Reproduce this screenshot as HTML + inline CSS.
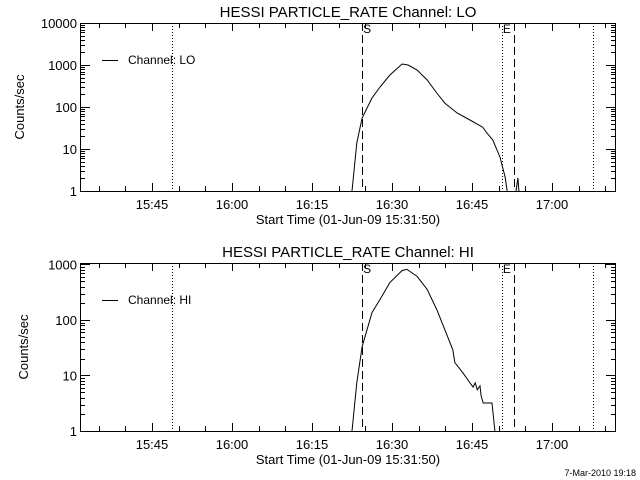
<!DOCTYPE html>
<html><head><meta charset="utf-8"><style>
html,body{margin:0;padding:0;background:#fff}
svg{display:block}
text{font-family:"Liberation Sans",sans-serif;fill:#000}
</style></head><body>
<svg id="chart" width="640" height="480" viewBox="0 0 640 480" xmlns="http://www.w3.org/2000/svg"></svg>
<script>
// minutes after 16:00
const tickLabels = ["15:45","16:00","16:15","16:30","16:45","17:00"];
const tickMinutes = [-15,0,15,30,45,60];
const loTimes = [22.5,23.4,24.4,26.25,27.75,29.6,31.9,33.0,34.7,36.6,38.4,39.9,42.2,44.6,47.0,47.8,48.9,50.25,51.2,51.6];
const loValues = [1,13.9,54.7,164,299,578,1057,1000,760,440,215,124,72,49,33,24,16.4,6.4,2.15,1];
const loSpikeTimes = [53.25,53.6,53.8];
const loSpikeValues = [1,2.04,1];
const hiTimes = [22.5,23.4,24.4,26.25,27.75,29.6,31.9,32.8,34.7,36.6,38.4,39.9,41.4,41.8,43.3,44.6,45.2,45.6,46.0,46.5,46.7,47.1,48.75,49.3];
const hiValues = [1,7.4,33,136,234,474,781,815,609,355,154,67,29,17,11.2,7.4,6.2,7.4,5.5,6.5,4.3,3.2,3.2,1];
const dottedMinutes = [-11.25,50.6,67.7];
const dashedMinutes = [24.4,52.9];

const svg = document.getElementById('chart');
const NS = 'http://www.w3.org/2000/svg';
const X0 = 80, X1 = 616, PXMIN = 80/15, XREF = 232;
function xs(m){ return XREF + m*PXMIN; }
const tMin = (X0-XREF)/PXMIN, tMax = (X1-XREF)/PXMIN;
function mk(tag, attrs, parent){ const e=document.createElementNS(NS,tag); for(const k in attrs) e.setAttribute(k,attrs[k]); (parent||svg).appendChild(e); return e; }

function panel(cfg){
  const g = mk('g',{});
  
  
  const y0 = cfg.top, y1 = cfg.bottom;
  const lmin = 0, lmax = cfg.lmax;
  const ys = v => y1 - (Math.log10(Math.max(v,1e-3)) - lmin)/(lmax-lmin)*(y1-y0);
  const clipId = 'clip'+cfg.id;
  const cp = mk('clipPath',{id:clipId},g); mk('rect',{x:X0,y:y0,width:X1-X0,height:y1-y0},cp);
  // title
  const t = mk('text',{x:348,y:y0-6,'text-anchor':'middle','font-size':'15'},g); t.textContent = cfg.title;
   
  // frame
  const fr = mk('rect',{x:X0+0.5,y:y0+0.5,width:X1-X0-1,height:y1-y0,fill:'none',stroke:'#000','stroke-width':1},g);
   
  // x ticks
  for(let m=Math.ceil(tMin/5)*5; m<=tMax; m+=5){
    const x = Math.round(xs(m))+0.5; const major = (m%15===0); const L = major?8:5;
    mk('line',{x1:x,y1:y1,x2:x,y2:y1-L,stroke:'#000'},g);
    mk('line',{x1:x,y1:y0,x2:x,y2:y0+L,stroke:'#000'},g);
  }
  tickLabels.forEach((lab,i)=>{
    const tx = mk('text',{x:xs(tickMinutes[i]),y:y1+18,'text-anchor':'middle','font-size':'13'},g); tx.textContent = lab;
     
  });
  const xt = mk('text',{x:348,y:y1+33,'text-anchor':'middle','font-size':'13'},g); xt.textContent='Start Time (01-Jun-09 15:31:50)';
   
  // y ticks
  for(let d=0; d<Math.ceil(lmax); d++){
    for(let k=1;k<10;k++){
      const v = Math.pow(10,d)*k; if(Math.log10(v)>lmax) break;
      const y = Math.round(ys(v))+0.5; const L = k===1?10:5;
      mk('line',{x1:X0,y1:y,x2:X0+L,y2:y,stroke:'#000'},g);
      mk('line',{x1:X1,y1:y,x2:X1-L,y2:y,stroke:'#000'},g);
    }
  }
  for(let d=0; d<=Math.floor(lmax); d++){
    const ty = mk('text',{x:77,y:ys(Math.pow(10,d))+5,'text-anchor':'end','font-size':'13'},g); ty.textContent = String(Math.pow(10,d));
     
  }
  const yt = mk('text',{x:0,y:0,'text-anchor':'middle','font-size':'13',transform:`translate(${cfg.ytx},${(y0+y1)/2}) rotate(-90)`},g); yt.textContent='Counts/sec';
   
  // vertical markers
  dottedMinutes.forEach(m=>{ const x=Math.round(xs(m))+0.5; const l=mk('line',{x1:x,y1:y0,x2:x,y2:y1,stroke:'#000','stroke-dasharray':'1,2'},g);   });
  dashedMinutes.forEach(m=>{ const x=Math.round(xs(m))+0.5; const l=mk('line',{x1:x,y1:y0,x2:x,y2:y1,stroke:'#000','stroke-dasharray':'8,4'},g);   });
  const s = mk('text',{x:xs(dashedMinutes[0])+1,y:y0+10,'font-size':'12'},g); s.textContent='S';
   
  const e = mk('text',{x:xs(dottedMinutes[1])+1,y:y0+10,'font-size':'12'},g); e.textContent='E';
   
  // series
  const series = cfg.series;
  series.forEach(sr=>{
    const d = sr.t.map((m,i)=>(i?'L':'M')+xs(m).toFixed(1)+','+ys(sr.v[i]).toFixed(1)).join(' ');
    const p = mk('path',{d:d,fill:'none',stroke:'#000','stroke-width':1,'clip-path':`url(#${clipId})`},g);
     
  });
  // legend
  const ly = y0+37;
  const ll = mk('line',{x1:102,y1:ly+0.5,x2:118,y2:ly+0.5,stroke:'#000'},g);
   
  const lt = mk('text',{x:128,y:ly+4,'font-size':'12'},g); lt.textContent = cfg.legend;
   
}

panel({id:1,name:'lo-panel',top:23,bottom:191,lmax:4,ytx:24,title:'HESSI PARTICLE_RATE Channel: LO',legend:'Channel: LO',
  series:[{t:loTimes,v:loValues,name:'lo-series'},{t:loSpikeTimes,v:loSpikeValues,name:'lo-spike'}]});
panel({id:2,name:'hi-panel',top:263,bottom:431,lmax:Math.log10(1064),ytx:28,title:'HESSI PARTICLE_RATE Channel: HI',legend:'Channel: HI',
  series:[{t:hiTimes,v:hiValues,name:'hi-series'}]});

const ft = mk('text',{x:636,y:476,'text-anchor':'end','font-size':'9'}); ft.textContent='7-Mar-2010 19:18';


</script>
</body></html>
